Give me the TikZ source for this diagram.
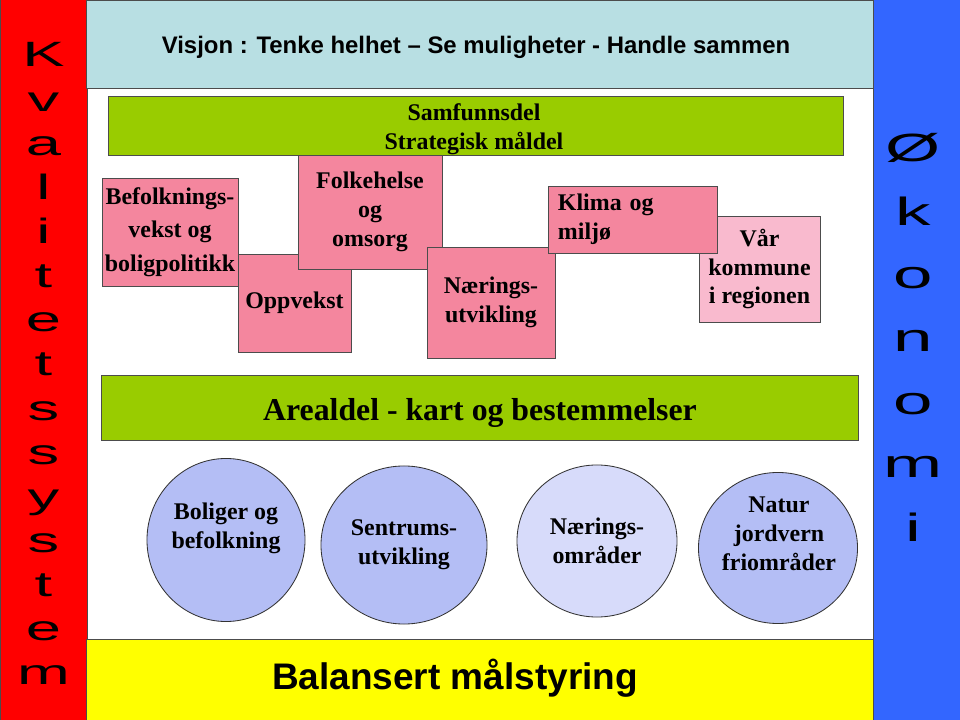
\documentclass[tikz,border=0pt]{standalone}
\usepackage{fontspec}
\setmainfont{Liberation Serif}
\setsansfont{Liberation Sans}
\usepackage{graphicx}
\usepackage{tikz}
\usetikzlibrary{positioning, shapes.geometric}

\definecolor{kvred}{HTML}{FF0000}
\definecolor{okblue}{HTML}{3366FF}
\definecolor{visjonblue}{HTML}{B8DFE3}
\definecolor{maalgreen}{HTML}{99CC00}
\definecolor{balyellow}{HTML}{FFFF00}
\definecolor{boxpink}{HTML}{F4869E}
\definecolor{palepink}{HTML}{F9BACE}
\definecolor{discblue}{HTML}{B4BEF5}
\definecolor{discpale}{HTML}{D7DBFA}
\newcommand{\timesb}{\bfseries\fontsize{17}{20.6}\selectfont}

\begin{document}
\begin{tikzpicture}[x=0.025cm, y=-0.025cm,
    band/.style={draw=black!70, line width=0.6pt, inner sep=0pt},
    pinkbox/.style={band, fill=boxpink, align=center, font=\timesb},
    disc/.style={ellipse, draw=black!80, line width=0.6pt, fill=discblue, inner sep=0pt, align=center, font=\timesb},
    plain/.style={align=center, font=\timesb},
    redletter/.style={anchor=base, font=\sffamily\fontsize{25}{25}\selectfont},
    blueletter/.style={anchor=base, font=\sffamily\fontsize{28}{28}\selectfont}]
    \useasboundingbox (0,0) rectangle (960,720);

    \node[band, fill=kvred, minimum width=2.175cm, minimum height=18cm] (kval) at (43.5,360) {};
    \node[band, fill=okblue, minimum width=2.175cm, minimum height=18cm] (okon) at (916.5,360) {};
    \node[band, fill=visjonblue, minimum width=19.65cm, minimum height=2.2cm] (visjon) at (480,44) {};
    \node[band, fill=balyellow, minimum width=19.65cm, minimum height=2.025cm] (balanse) at (480,679.5) {};

    \foreach \c [count=\i from 0] in {K,v,a,l,i,t,e,t,s,s,y,s,t,e,m}
        \node[redletter] (kv\i) at (43.5,67+44.14*\i) {\scalebox{1.8}[1]{\c}};
    \foreach \c [count=\i from 0] in {Ø,k,o,n,o,m,i}
        \node[blueletter] (ok\i) at (913,162+63.2*\i) {\scalebox{1.8}[1]{\c}};

    \node[font=\sffamily\bfseries\fontsize{17}{17}\selectfont] (visjontekst) at (476,47)
        {Visjon : Tenke helhet – Se muligheter - Handle sammen};
    \node[font=\sffamily\bfseries\fontsize{26.3}{26.3}\selectfont] (balansetekst) at (455,678.5)
        {Balansert målstyring};

    \node[band, fill=maalgreen, minimum width=18.35cm, minimum height=1.475cm] (samf) at (476,125.5) {};
    \node[plain] (samftekst) at (474,129) {Samfunnsdel\\Strategisk måldel};

    \node[pinkbox, font=\bfseries\fontsize{17}{24}\selectfont, minimum width=3.4cm, minimum height=2.7cm] (befolk) at (170,232)
        {Befolknings-\\vekst og\\boligpolitikk};
    \node[pinkbox, minimum width=2.825cm, minimum height=2.45cm] (oppvekst) at (294.5,303) {Oppvekst};
    \node[pinkbox, minimum width=3.6cm, minimum height=2.85cm] (folkehelse) at (370,212) {Folkehelse\\og\\omsorg};
    \node[pinkbox, fill=palepink, minimum width=3.025cm, minimum height=2.65cm] (vaar) at (759.5,269)
        {Vår\\kommune\\i regionen};
    \node[pinkbox, minimum width=3.2cm, minimum height=2.775cm] (naeringutv) at (491,302.5) {Nærings-\\utvikling};
    \node[pinkbox, align=left, text width=3.725cm, minimum width=4.225cm, minimum height=1.675cm] (klima) at (632.5,219.5)
        {Klima og\\miljø};

    \node[band, fill=maalgreen, minimum width=18.9cm, minimum height=1.625cm] (areal) at (480,407.5) {};
    \node[font=\bfseries\fontsize{22.6}{22.6}\selectfont] (arealtekst) at (480,413) {Arealdel - kart og bestemmelser};

    \node[disc, minimum width=3.95cm, minimum height=4.075cm] (boliger) at (226,540) {};
    \node[plain] (boligertekst) at (226,528) {Boliger og\\befolkning};
    \node[disc, minimum width=4.15cm, minimum height=3.95cm] (sentrum) at (404,545) {Sentrums-\\utvikling};
    \node[disc, fill=discpale, minimum width=4cm, minimum height=3.8cm] (naering) at (597,541) {Nærings-\\områder};
    \node[disc, minimum width=3.975cm, minimum height=3.775cm] (natur) at (778,548) {};
    \node[plain] (naturtekst) at (779,534) {Natur\\jordvern\\friområder};
\end{tikzpicture}
\end{document}
